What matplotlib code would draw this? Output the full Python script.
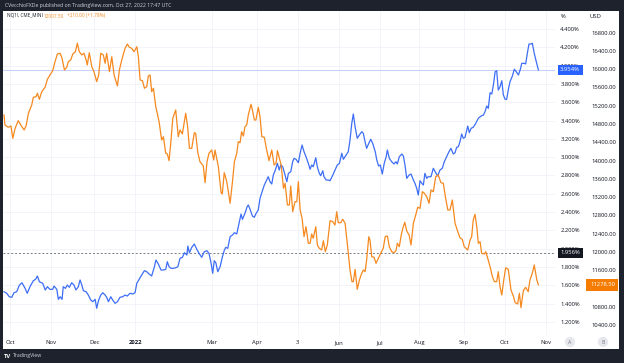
import matplotlib
matplotlib.use("Agg")
import matplotlib.pyplot as plt
from matplotlib.patches import Rectangle
import numpy as np

plt.rcParams['font.family'] = ['Open Sans', 'DejaVu Sans']

# x = trading-day index, 0 = Oct 1 2021
tick_pos = [0, 21, 43, 64, 103, 126, 147, 168, 189, 209, 232, 253, 274]
tick_lab = ['Oct', 'Nov', 'Dec', '2022', 'Mar', 'Apr', '3', 'Jun', 'Jul', 'Aug', 'Sep', 'Oct', 'Nov']

pct_ticks = np.arange(1.2, 4.41, 0.2)
usd_ticks = np.arange(10400, 16801, 400)

# US 10Y yield (%), blue
yield_pts = [
    (-3.1, 1.529), (-1.7, 1.512), (-0.4, 1.474), (0.9, 1.468), (2.0, 1.518), (3.4, 1.529), (4.8, 1.602),
    (6.1, 1.627), (7.7, 1.566), (8.8, 1.512), (10.2, 1.584), (11.9, 1.649), (13.1, 1.665), (14.0, 1.701),
    (15.0, 1.638), (16.7, 1.621), (18.0, 1.548), (19.1, 1.584), (20.4, 1.555), (21.8, 1.555), (22.5, 1.591),
    (23.9, 1.555), (24.7, 1.446), (25.6, 1.474), (26.6, 1.446), (27.2, 1.584), (28.3, 1.566), (29.3, 1.602),
    (30.3, 1.577), (31.5, 1.627), (32.7, 1.602), (33.7, 1.548), (34.9, 1.584), (35.8, 1.657), (36.7, 1.602),
    (37.5, 1.540), (38.9, 1.529), (40.0, 1.493), (41.3, 1.438), (42.3, 1.420), (43.5, 1.446), (44.3, 1.348),
    (45.3, 1.438), (46.4, 1.493), (47.4, 1.518), (48.6, 1.493), (49.4, 1.468), (50.3, 1.420), (51.5, 1.474),
    (52.5, 1.438), (53.7, 1.402), (54.9, 1.420), (56.2, 1.468), (57.6, 1.474), (58.8, 1.493), (60.0, 1.482),
    (61.3, 1.512), (62.7, 1.504), (63.9, 1.518), (64.8, 1.621), (66.0, 1.665), (67.3, 1.712), (68.7, 1.759),
    (69.9, 1.748), (71.1, 1.722), (72.4, 1.701), (73.8, 1.802), (74.6, 1.875), (75.8, 1.832), (77.2, 1.766),
    (78.4, 1.766), (79.6, 1.774), (80.4, 1.857), (81.3, 1.802), (82.3, 1.785), (83.5, 1.785), (84.7, 1.791),
    (85.8, 1.802), (86.9, 1.894), (88.1, 1.905), (89.2, 1.955), (90.4, 1.930), (90.9, 2.028), (91.7, 1.955),
    (92.9, 2.014), (94.2, 2.050), (95.5, 1.992), (96.6, 1.949), (98.0, 1.905), (99.3, 1.966), (100.6, 1.977),
    (101.7, 1.949), (102.8, 1.839), (103.6, 1.730), (104.4, 1.868), (105.2, 1.846), (106.2, 1.748),
    (107.4, 1.802), (108.5, 1.905), (109.6, 1.985), (110.3, 2.014), (111.3, 2.003), (112.5, 2.130),
    (113.7, 2.149), (114.7, 2.174), (115.9, 2.160), (116.7, 2.239), (118.1, 2.378), (118.8, 2.320),
    (120.1, 2.386), (121.2, 2.458), (121.8, 2.477), (122.7, 2.430), (123.9, 2.356), (124.9, 2.342),
    (125.6, 2.378), (126.9, 2.422), (127.8, 2.550), (128.7, 2.611), (130.0, 2.695), (131.2, 2.750),
    (132.0, 2.786), (132.9, 2.731), (133.8, 2.706), (134.6, 2.804), (135.5, 2.851), (136.7, 2.932),
    (137.6, 2.859), (138.4, 2.914), (139.4, 2.895), (140.6, 2.804), (141.5, 2.731), (142.3, 2.823),
    (143.5, 2.840), (144.5, 2.950), (145.2, 2.987), (146.2, 2.976), (147.4, 2.939), (148.3, 3.042),
    (149.3, 3.132), (150.3, 3.059), (151.3, 3.004), (152.5, 2.932), (153.4, 2.867), (154.2, 2.914),
    (155.0, 2.895), (156.3, 2.993), (157.1, 2.895), (158.1, 2.823), (158.8, 2.797), (159.9, 2.851),
    (160.5, 2.786), (161.6, 2.750), (162.7, 2.750), (163.6, 2.742), (165.0, 2.804), (166.3, 2.867),
    (167.3, 2.914), (168.4, 2.932), (169.6, 3.042), (170.4, 2.976), (171.8, 3.023), (172.9, 3.059),
    (173.8, 3.187), (174.7, 3.369), (175.5, 3.471), (176.4, 3.332), (177.5, 3.206), (178.6, 3.242),
    (179.8, 3.278), (180.6, 3.260), (181.5, 3.168), (182.3, 3.096), (183.4, 3.151), (184.4, 3.195),
    (185.4, 3.151), (186.7, 3.059), (187.5, 2.968), (188.4, 2.903), (189.3, 2.914), (190.3, 2.815),
    (191.3, 2.932), (192.3, 3.004), (192.9, 3.078), (193.9, 2.987), (195.1, 2.950), (196.3, 2.925),
    (197.3, 2.950), (198.0, 2.925), (199.0, 3.004), (200.3, 3.034), (201.1, 3.012), (201.9, 2.914),
    (202.8, 2.768), (204.0, 2.804), (205.0, 2.815), (206.2, 2.750), (207.0, 2.714), (207.9, 2.659),
    (208.7, 2.586), (209.6, 2.742), (210.5, 2.714), (211.3, 2.695), (212.1, 2.823), (213.0, 2.768),
    (213.8, 2.786), (215.2, 2.786), (216.4, 2.878), (217.6, 2.830), (218.6, 2.794), (219.8, 2.859),
    (221.0, 2.878), (222.0, 2.950), (223.2, 3.004), (224.4, 3.059), (225.4, 3.096), (226.6, 3.034),
    (227.5, 3.048), (228.3, 3.107), (229.2, 3.114), (230.0, 3.168), (230.9, 3.253), (231.7, 3.206),
    (232.6, 3.216), (234.0, 3.340), (234.8, 3.267), (235.7, 3.315), (236.8, 3.326), (238.1, 3.369),
    (239.4, 3.424), (240.8, 3.449), (242.0, 3.460), (242.8, 3.496), (243.7, 3.559), (244.5, 3.533),
    (245.4, 3.704), (246.3, 3.690), (247.1, 3.788), (248.0, 3.933), (248.8, 3.944), (249.6, 3.733),
    (250.5, 3.769), (251.4, 3.835), (252.2, 3.679), (253.1, 3.632), (253.9, 3.632), (254.7, 3.733),
    (255.6, 3.824), (256.8, 3.886), (257.8, 3.960), (258.8, 3.933), (259.9, 3.897), (260.9, 3.960),
    (261.6, 4.025), (262.9, 4.025), (263.6, 4.018), (264.6, 4.152), (265.3, 4.236), (266.3, 4.236),
    (267.0, 4.244), (268.0, 4.134), (268.9, 4.054), (270.1, 3.954),
]

# NQ1! (USD), orange
nq_pts = [
    (-3.1, 14998), (-2.6, 14778), (-0.9, 14728), (0.5, 14757), (1.4, 14487), (2.6, 14706), (4.2, 14873),
    (5.5, 14778), (7.2, 14669), (8.2, 14757), (9.4, 15035), (11.1, 15216), (11.9, 15385), (13.3, 15398),
    (14.0, 15473), (15.0, 15341), (16.2, 15508), (17.9, 15604), (19.1, 15779), (20.4, 15873), (21.8, 15968),
    (23.0, 16165), (24.2, 16333), (25.6, 16349), (26.6, 16239), (27.8, 15983), (29.0, 16042), (29.8, 16165),
    (31.0, 16202), (32.1, 16333), (33.4, 16384), (34.4, 16568), (35.4, 16384), (36.7, 16312), (37.8, 16349),
    (38.9, 16202), (39.5, 16093), (40.5, 16362), (41.8, 16055), (42.9, 15946), (44.3, 15727), (45.3, 15873),
    (46.4, 16349), (47.7, 16312), (48.6, 16130), (49.4, 16349), (50.8, 15946), (52.0, 16274), (53.2, 15873),
    (54.9, 15633), (55.9, 15983), (57.1, 16202), (58.8, 16458), (60.0, 16552), (61.0, 16480), (62.2, 16458),
    (63.4, 16384), (64.8, 16493), (65.6, 16274), (66.5, 15764), (67.7, 15749), (68.7, 15582), (69.9, 15617),
    (70.7, 15852), (71.6, 15873), (72.4, 15508), (73.3, 15582), (74.5, 15179), (76.2, 14851), (77.5, 14450),
    (78.4, 14522), (79.6, 14159), (80.4, 14143), (81.3, 13997), (82.3, 14450), (83.2, 14925), (84.7, 15107),
    (86.0, 14522), (86.9, 14669), (88.1, 14581), (89.8, 15035), (90.8, 14741), (91.7, 14268), (92.9, 14268),
    (94.2, 14610), (94.9, 14597), (96.0, 14172), (97.1, 13975), (98.8, 13881), (99.7, 13515), (100.7, 13975),
    (101.7, 14159), (103.1, 14231), (104.1, 14012), (104.8, 14231), (106.5, 13865), (107.9, 13296),
    (108.5, 13267), (109.5, 13734), (110.8, 13537), (112.5, 13064), (113.8, 13574), (114.7, 13975),
    (115.9, 14159), (116.7, 14413), (117.6, 14391), (118.4, 14632), (119.3, 14538), (120.1, 14741),
    (121.0, 14778), (121.8, 14998), (123.2, 15232), (123.9, 15107), (124.9, 14888), (125.7, 14888),
    (126.9, 15166), (127.8, 14960), (128.7, 14522), (130.0, 14509), (131.2, 14231), (132.4, 13997),
    (133.8, 14231), (135.0, 13903), (136.0, 13940), (136.7, 14216), (137.7, 14049), (138.6, 13903),
    (139.8, 13392), (140.6, 13502), (141.8, 13027), (142.8, 13027), (143.5, 13443), (144.5, 12880),
    (145.7, 13099), (146.6, 13099), (147.4, 13537), (148.3, 12917), (149.3, 12735), (150.3, 12332),
    (151.3, 12551), (152.5, 12188), (153.4, 12188), (154.2, 12391), (155.0, 12297), (156.3, 12551),
    (157.1, 12150), (158.1, 12078), (159.3, 12041), (160.2, 12245), (161.2, 12004), (162.2, 12150),
    (163.6, 12683), (165.0, 12661), (166.1, 12588), (167.0, 12880), (167.8, 12639), (169.0, 12639),
    (170.1, 12713), (171.3, 12626), (172.4, 12188), (173.8, 11603), (174.8, 11347), (175.5, 11347),
    (176.4, 11618), (177.5, 11180), (178.6, 11384), (179.8, 11531), (180.6, 11603), (181.5, 11566),
    (182.3, 11822), (183.4, 12332), (184.0, 12260), (184.9, 11894), (186.1, 11881), (187.1, 11750),
    (188.3, 11859), (189.5, 11969), (190.8, 12078), (191.8, 12332), (192.9, 12348), (193.9, 12113),
    (195.1, 12004), (196.3, 11982), (197.3, 12026), (198.0, 12188), (199.0, 12113), (200.0, 12370),
    (200.8, 12516), (201.8, 12648), (202.8, 12457), (204.0, 12370), (205.0, 12150), (206.2, 12626),
    (207.4, 12807), (208.4, 12976), (209.6, 12954), (210.8, 13318), (211.8, 13283), (213.0, 13208),
    (214.2, 13064), (215.2, 13355), (216.4, 13318), (217.6, 13646), (218.9, 13684), (220.3, 13515),
    (221.5, 13502), (222.7, 13173), (223.8, 12917), (224.9, 12917), (226.1, 13136), (227.5, 12626),
    (228.9, 12442), (230.0, 12310), (231.2, 12275), (232.2, 12113), (234.0, 12041), (235.2, 12260),
    (236.0, 12332), (236.8, 12698), (237.7, 12823), (238.6, 12551), (239.4, 12188), (240.3, 12223),
    (241.1, 11969), (242.5, 11953), (243.2, 12004), (244.2, 11859), (245.4, 11675), (246.6, 11456),
    (247.6, 11347), (248.8, 11347), (249.6, 11566), (250.5, 11237), (251.4, 11055), (252.4, 11384),
    (253.4, 11653), (254.7, 11618), (256.1, 11165), (257.3, 11034), (258.2, 10887), (259.5, 10858),
    (260.4, 11093), (261.2, 10777), (262.4, 11150), (263.6, 11224), (264.9, 11128), (265.8, 11384),
    (267.0, 11531), (268.0, 11713), (269.3, 11384), (270.1, 11278.5),
]

last_yield = 3.954
ref_yield = 1.956
last_nq = 11278.50

BLUE = '#3d6ef5'
ORANGE = '#f5891f'
TXT = '#131722'
FRAME = '#1e222d'
FS = 4.2      # axis label size
HS = 3.7      # header text size

W, H = 624, 363
fig = plt.figure(figsize=(W / 100, H / 100), dpi=100, facecolor=FRAME)
fig.patches.append(Rectangle((3 / W, 14 / H), 616 / W, 338 / H, transform=fig.transFigure,
                             facecolor='white', edgecolor='none', zorder=-10))

ax = fig.add_axes([3 / W, 28 / H, 552 / W, 324 / H])
ax.set_facecolor('white')
ax2 = ax.twinx()

yx, yv = zip(*yield_pts)
nx, nv = zip(*nq_pts)
ax.plot(yx, yv, color=BLUE, lw=0.9, zorder=3)
ax2.plot(nx, nv, color=ORANGE, lw=0.9, zorder=3)

ax.set_xlim(-3.6, 278.6)
ax.set_ylim(1.056, 4.597)
ax2.set_ylim(10179, 17275)

ax.set_xticks(tick_pos)
ax.set_xticklabels(tick_lab)
ax.get_xticklabels()[3].set_fontweight('bold')
ax.tick_params(axis='x', length=0, pad=3.5, labelsize=FS, labelcolor=TXT)

ax.yaxis.tick_right()
ax.set_yticks(pct_ticks)
ax.set_yticklabels(['%.3f%%' % v for v in pct_ticks])
ax.tick_params(axis='y', length=0, pad=3.8, labelsize=FS, labelcolor=TXT)
ax2.set_yticks(usd_ticks)
ax2.set_yticklabels(['%.2f' % v for v in usd_ticks])
ax2.tick_params(axis='y', length=0, pad=26, labelsize=FS, labelcolor=TXT)

ax.grid(True, color='#f0f3fa', lw=0.6)
ax.set_axisbelow(True)
for a in (ax, ax2):
    for s in a.spines.values():
        s.set_visible(False)

ax.axhline(last_yield, color='#b8c9fb', lw=0.6, zorder=2)
ax.axhline(ref_yield, color='#787b86', lw=0.7, ls=(0, (2, 2)), zorder=2)

tr = ax.get_yaxis_transform()
ax.text(1.0095, last_yield, '%.3f%%' % last_yield, transform=tr, ha='left', va='center',
        color='white', fontsize=FS, clip_on=False, zorder=6,
        bbox=dict(boxstyle='square,pad=0.45', fc='#2962ff', ec='none'))
ax.text(1.0095, ref_yield, '%.3f%%' % ref_yield, transform=tr, ha='left', va='center',
        color='white', fontsize=FS, clip_on=False, zorder=6,
        bbox=dict(boxstyle='square,pad=0.45', fc=TXT, ec='none'))
tr2 = ax2.get_yaxis_transform()
ax2.text(1.0634, last_nq, '%.2f' % last_nq, transform=tr2, ha='left', va='center',
         color='white', fontsize=FS, clip_on=False, zorder=6,
         bbox=dict(boxstyle='square,pad=0.6', fc='#f57c00', ec='none'))

# header / footer texts
fig.text(5 / W, 1 - 5.5 / H, 'CVecchioFXDe published on TradingView.com, Oct 27, 2022 17:47 UTC',
         color='#d1d4dc', fontsize=HS, va='center')
fig.text(7 / W, 1 - 16 / H, 'NQ1!, CME_MINI', color=TXT, fontsize=3.3, va='center')
fig.text(44 / W, 1 - 16 / H, '12007.50', color=ORANGE, fontsize=3.4, va='center')
fig.text(67 / W, 1 - 16 / H, '+210.00 (+1.78%)', color=ORANGE, fontsize=3.4, va='center')
fig.text(561 / W, 1 - 17 / H, '%', color=TXT, fontsize=FS, va='center')
fig.text(590 / W, 1 - 17 / H, 'USD', color=TXT, fontsize=FS, va='center')
fig.text(4 / W, 1 - 356 / H, 'TV', color='white', fontsize=4.2, fontweight='bold', va='center')
fig.text(13 / W, 1 - 356 / H, 'TradingView', color='#d1d4dc', fontsize=HS, va='center')
for bx, letter in ((570, 'A'), (603, 'B')):
    fig.text(bx / W, 1 - 342 / H, letter, color='#787b86', fontsize=3.8, ha='center', va='center',
             bbox=dict(boxstyle='circle,pad=0.5', fc='#e6e8ee', ec='none'))

fig.savefig('out.png', dpi=100, facecolor=fig.get_facecolor())
